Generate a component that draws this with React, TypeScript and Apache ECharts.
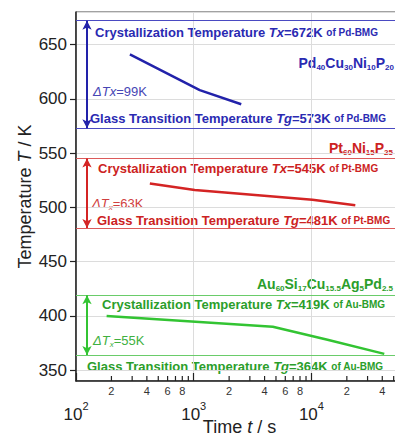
import React, { useEffect, useRef } from "react";
import * as echarts from "echarts";

// ---- data ----
const pdTime = [287, 1125, 2535];
const pdTemp = [641, 608, 595];
const ptTime = [424, 1020, 10200, 23600];
const ptTemp = [522, 516, 507, 502];
const auTime = [182, 4700, 13700, 41600];
const auTemp = [400, 390, 378, 365];

const pdTx = 672;
const pdTg = 573;
const ptTx = 545;
const ptTg = 481;
const auTx = 419;
const auTg = 364;
const deltaTx = [99, 63, 55];
const arrowTime = 124;

const yMin = 340;
const yMax = 680;
const xMin = 100;
const xMax = 60000;

const minorTicks = [200, 300, 400, 500, 600, 700, 800, 900, 2000, 3000, 4000, 5000, 6000, 7000, 8000, 9000, 20000, 30000, 40000, 50000];
const minorTickLabels = ["2", "", "4", "", "6", "", "8", "", "2", "", "4", "", "6", "", "8", "", "2", "", "4", ""];

const FONT = "'Liberation Sans', Arial, Helvetica, sans-serif";
const BLUE = "#2222aa";
const BLUE_T = "#2a2ab2";
const RED = "#d42424";
const RED_T = "#cc2222";
const GREEN = "#33c433";
const GREEN_T = "#2b9e2b";

function annoRich(color: string) {
  return {
    b: { fontSize: 13, fontWeight: "bold", fill: color, fontFamily: FONT },
    bi: { fontSize: 13, fontWeight: "bold", fontStyle: "italic", fill: color, fontFamily: FONT },
    s: { fontSize: 10, fontWeight: "bold", fill: color, fontFamily: FONT },
    i: { fontSize: 13, fontStyle: "italic", fill: color, fontFamily: FONT },
    n: { fontSize: 13, fill: color, fontFamily: FONT },
    si: { fontSize: 8, fontStyle: "italic", fill: color, fontFamily: FONT, verticalAlign: "bottom", lineHeight: 17 },
    c: { fontSize: 14, fontWeight: "bold", fill: color, fontFamily: FONT, lineHeight: 14 },
    sub: { fontSize: 8, fontWeight: "bold", fill: color, fontFamily: FONT, verticalAlign: "bottom", lineHeight: 17 },
  };
}

function txt(x: number, y: number, text: string, color: string, align = "left") {
  return {
    type: "text",
    x,
    y,
    silent: true,
    style: { text, rich: annoRich(color), verticalAlign: "middle", align, fontFamily: FONT },
  };
}

function refLines(tx: number, tg: number, color: string, thin: string) {
  return {
    silent: true,
    symbol: "none",
    label: { show: false },
    emphasis: { disabled: true },
    lineStyle: { color: thin, width: 1, type: "solid" },
    data: [
      { yAxis: tx },
      { yAxis: tg },
      [
        { coord: [arrowTime, tx], symbol: "arrow", symbolSize: [7, 9], lineStyle: { color, width: 2, type: "solid" } },
        { coord: [arrowTime, tg], symbol: "arrow", symbolSize: [7, 9], lineStyle: { color, width: 2, type: "solid" } },
      ],
    ],
  };
}

export default function App() {
  const ref = useRef<HTMLDivElement>(null);
  useEffect(() => {
    if (!ref.current) return;
    const chart = echarts.init(ref.current, undefined, { renderer: "svg" });
    const option: any = {
      animation: false,
      textStyle: { fontFamily: FONT },
      grid: {
        left: 76,
        top: 12,
        width: 327,
        height: 369,
        show: true,
        borderColor: "#444",
        borderWidth: 1,
        containLabel: false,
        outerBoundsMode: "none",
      },
      xAxis: {
        type: "log",
        logBase: 10,
        min: xMin,
        max: xMax,
        axisLine: { lineStyle: { color: "#222", width: 1.5 } },
        axisTick: { inside: true, length: 8, lineStyle: { color: "#222", width: 1.2 } },
        axisLabel: {
          margin: 19,
          showMaxLabel: false,
          formatter: (v: number) => `{b|10}{sup|${Math.round(Math.log10(v))}}`,
          rich: {
            b: { fontSize: 17, color: "#222", fontFamily: FONT, lineHeight: 17 },
            sup: { fontSize: 11, color: "#222", fontFamily: FONT, verticalAlign: "top", lineHeight: 28 },
          },
        },
        splitLine: { show: true, lineStyle: { color: "#dcdcdc", width: 1 } },
        name: "Time {i|t} / s",
        nameLocation: "middle",
        nameGap: 37,
        nameMoveOverlap: false,
        nameTextStyle: {
          fontSize: 18,
          color: "#222",
          fontFamily: FONT,
          rich: { i: { fontSize: 18, fontStyle: "italic", color: "#222", fontFamily: FONT } },
        },
      },
      yAxis: {
        type: "value",
        min: yMin,
        max: yMax,
        axisLine: { show: true, lineStyle: { color: "#222", width: 1.5 } },
        axisTick: { show: true, inside: false, length: 6, lineStyle: { color: "#222", width: 1.2 } },
        axisLabel: { fontSize: 17, color: "#222", margin: 9, showMinLabel: false, showMaxLabel: false, fontFamily: FONT },
        splitLine: { show: true, lineStyle: { color: "#dcdcdc", width: 1 } },
        name: "Temperature {i|T} / K",
        nameLocation: "middle",
        nameGap: 42,
        nameRotate: 90,
        nameMoveOverlap: false,
        nameTextStyle: {
          fontSize: 18,
          color: "#222",
          fontFamily: FONT,
          rich: { i: { fontSize: 18, fontStyle: "italic", color: "#222", fontFamily: FONT } },
        },
      },
      series: [
        {
          type: "line",
          name: "Pd",
          data: pdTime.map((t, i) => [t, pdTemp[i]]),
          showSymbol: false,
          silent: true,
          lineStyle: { color: BLUE, width: 2.5 },
          markLine: refLines(pdTx, pdTg, BLUE, "#4a4ac2"),
        },
        {
          type: "line",
          name: "Pt",
          data: ptTime.map((t, i) => [t, ptTemp[i]]),
          showSymbol: false,
          silent: true,
          lineStyle: { color: RED, width: 2.5 },
          markLine: refLines(ptTx, ptTg, RED, "#dc5a5a"),
        },
        {
          type: "line",
          name: "Au",
          data: auTime.map((t, i) => [t, auTemp[i]]),
          showSymbol: false,
          silent: true,
          lineStyle: { color: GREEN, width: 2.5 },
          markLine: refLines(auTx, auTg, GREEN, "#6acc6a"),
        },
        {
          type: "custom",
          coordinateSystem: "cartesian2d",
          silent: true,
          clip: false,
          data: minorTicks.map((v) => [v, yMin]),
          encode: { x: 0, y: 1 },
          renderItem: (params: any, api: any) => {
            const v = api.value(0);
            const p = api.coord([v, yMin]);
            const lab = minorTickLabels[params.dataIndex];
            const children: any[] = [
              { type: "line", shape: { x1: p[0], y1: p[1], x2: p[0], y2: p[1] - 5 }, style: { stroke: "#222", lineWidth: 1.2 } },
            ];
            if (lab) {
              children.push({
                type: "text",
                x: p[0],
                y: p[1] + 10,
                style: { text: lab, fontSize: 11, fill: "#333", align: "center", verticalAlign: "middle", fontFamily: FONT },
              });
            }
            return { type: "group", children };
          },
        },
      ],
      graphic: [
        txt(95, 32, `{b|Crystallization Temperature }{bi|Tx}{b|=${pdTx}K }{s|of Pd-BMG}`, BLUE_T),
        txt(90, 118, `{b|Glass Transition Temperature }{bi|Tg}{b|=${pdTg}K }{s|of Pd-BMG}`, BLUE_T),
        txt(93, 91, `{i|ΔTx}{n|=${deltaTx[0]}K}`, "#4646b4"),
        txt(394, 63, "{c|Pd}{sub|40}{c|Cu}{sub|30}{c|Ni}{sub|10}{c|P}{sub|20}", BLUE_T, "right"),

        txt(393, 148, "{c|Pt}{sub|60}{c|Ni}{sub|15}{c|P}{sub|25}", RED_T, "right"),
        txt(98, 168, `{b|Crystallization Temperature }{bi|Tx}{b|=${ptTx}K }{s|of Pt-BMG}`, RED_T),
        txt(92, 203, `{i|ΔT}{si|x}{n|=${deltaTx[1]}K}`, "#d04040"),
        txt(97, 220, `{b|Glass Transition Temperature }{bi|Tg}{b|=${ptTg}K }{s|of Pt-BMG}`, RED_T),

        txt(393, 284, "{c|Au}{sub|60}{c|Si}{sub|17}{c|Cu}{sub|15.5}{c|Ag}{sub|5}{c|Pd}{sub|2.5}", GREEN_T, "right"),
        txt(102, 304, `{b|Crystallization Temperature }{bi|Tx}{b|=${auTx}K }{s|of Au-BMG}`, GREEN_T),
        txt(93, 340, `{i|ΔT}{si|x}{n|=${deltaTx[2]}K}`, "#40b040"),
        txt(87, 366, `{b|Glass Transition Temperature }{bi|Tg}{b|=${auTg}K }{s|of Au-BMG}`, GREEN_T),
      ],
    };
    chart.setOption(option);
    return () => chart.dispose();
  }, []);
  return <div ref={ref} style={{ position: "absolute", left: 0, top: 0, width: 395, height: 437 }} />;
}
